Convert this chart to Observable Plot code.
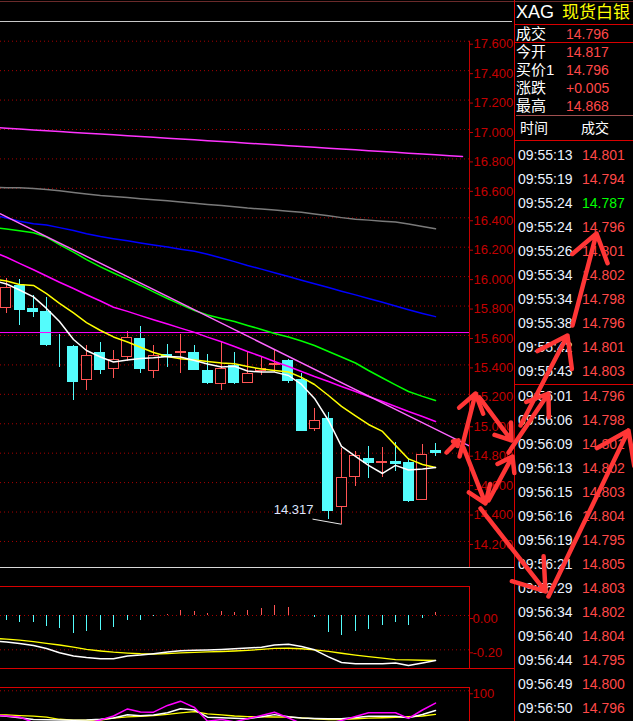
<!DOCTYPE html>
<html><head><meta charset="utf-8">
<script src="https://cdn.jsdelivr.net/npm/d3@7"></script>
<script src="https://cdn.jsdelivr.net/npm/@observablehq/plot@0.6"></script>
<style>
html,body{margin:0;padding:0;background:#000;width:633px;height:721px;overflow:hidden;}
#root{position:relative;width:633px;height:721px;background:#000;overflow:hidden;font-family:"Liberation Sans",Arial,sans-serif;}
.abs{position:absolute;}
.hl{position:absolute;height:1px;}
.vl{position:absolute;width:1px;}
.t{position:absolute;white-space:nowrap;}
</style></head><body><div id="root"></div>
<script>
// ---------- DATA ----------
const candleOpen  = [15.781,15.942,15.784,15.763,15.541,15.525,15.296,15.484,15.367,15.448,15.578,15.353,15.469,15.480,15.484,15.362,15.265,15.396,15.276,15.357,15.398,15.430,15.299,14.963,15.036,14.429,14.633,14.766,14.732,14.744,14.735,14.477,14.817];
const candleHigh  = [15.985,15.981,15.872,15.858,15.607,15.530,15.532,15.550,15.498,15.627,15.661,15.532,15.539,15.607,15.532,15.471,15.552,15.482,15.482,15.457,15.498,15.437,15.340,15.104,15.077,14.830,14.812,14.846,14.839,14.871,14.762,14.860,14.868];
const candleLow   = [15.747,15.668,15.724,15.528,15.380,15.160,15.226,15.335,15.310,15.423,15.344,15.310,15.380,15.344,15.362,15.267,15.228,15.265,15.272,15.328,15.349,15.272,14.950,14.948,14.350,14.317,14.576,14.630,14.637,14.678,14.467,14.477,14.775];
const candleClose = [15.926,15.770,15.758,15.532,15.537,15.283,15.462,15.362,15.435,15.584,15.367,15.462,15.452,15.491,15.362,15.276,15.374,15.272,15.340,15.374,15.412,15.287,14.950,15.022,14.406,14.633,14.785,14.732,14.743,14.723,14.474,14.789,14.796];

// moving averages, first value is the bar just left of the window (index -1)
const maWhite  = [15.975,15.950,15.909,15.862,15.784,15.695,15.573,15.498,15.454,15.420,15.433,15.444,15.448,15.457,15.454,15.430,15.406,15.386,15.391,15.359,15.351,15.351,15.328,15.267,15.172,15.022,14.846,14.778,14.717,14.662,14.717,14.686,14.693,14.703];
const maYellow = [15.985,15.970,15.947,15.940,15.885,15.818,15.753,15.688,15.634,15.590,15.556,15.520,15.484,15.457,15.442,15.433,15.423,15.413,15.408,15.389,15.372,15.362,15.352,15.315,15.267,15.192,15.118,15.053,14.995,14.948,14.853,14.761,14.723,14.703];
const maGreen  = [16.333,16.324,16.312,16.298,16.269,16.218,16.167,16.116,16.066,16.025,15.981,15.940,15.896,15.851,15.811,15.770,15.739,15.716,15.695,15.668,15.641,15.614,15.590,15.563,15.532,15.491,15.454,15.413,15.362,15.311,15.264,15.219,15.186,15.158];
const maMagenta= [16.170,16.132,16.090,16.047,16.004,15.962,15.919,15.877,15.834,15.792,15.764,15.735,15.707,15.678,15.650,15.621,15.589,15.557,15.525,15.491,15.457,15.423,15.389,15.355,15.321,15.287,15.253,15.219,15.185,15.151,15.117,15.083,15.049,15.015];
const maBlue   = [16.420,16.399,16.377,16.360,16.351,16.333,16.313,16.292,16.273,16.258,16.244,16.229,16.215,16.201,16.186,16.172,16.152,16.127,16.102,16.076,16.051,16.026,16.001,15.976,15.951,15.926,15.901,15.876,15.851,15.826,15.800,15.775,15.750,15.728];
const maGray   = [16.606,16.604,16.604,16.599,16.592,16.583,16.572,16.562,16.551,16.545,16.537,16.530,16.522,16.515,16.507,16.498,16.491,16.483,16.475,16.466,16.459,16.452,16.445,16.437,16.425,16.413,16.401,16.390,16.384,16.377,16.371,16.358,16.341,16.325];
const maLong   = [17.015,17.009,17.003,16.997,16.992,16.986,16.980,16.975,16.969,16.964,16.958,16.952,16.947,16.941,16.935,16.930,16.924,16.918,16.913,16.907,16.901,16.896,16.890,16.884,16.879,16.873,16.867,16.862,16.856,16.850,16.845,16.839,16.833,16.828,16.822,16.816];
const trendIdx = [-0.425, 34.51];
const trendVal = [16.427, 14.849];
const levelLine = [15.62];
const lowMark = {i: 25, v: 14.317};
const priceTicks = [14.2,14.4,14.6,14.8,15.0,15.2,15.4,15.6,15.8,16.0,16.2,16.4,16.6,16.8,17.0,17.2,17.4,17.6];

// hand-drawn annotation arrows, in (bar index, price) units of the price panel
const arrowFromIdx   = [32.80, 33.77, 35.25, 34.06, 35.93, 35.33, 40.39, 37.42, 38.31, 42.18];
const arrowFromPrice = [14.805,14.778,15.179,14.839,14.479,14.425,13.827,14.805,14.989,15.668];
const arrowToIdx     = [33.69, 34.96, 37.64, 35.70, 37.71, 40.17, 46.35, 40.39, 41.81, 43.97];
const arrowToPrice   = [14.887,15.206,14.887,14.459,14.778,13.861,14.955,15.206,15.600,16.294];

const macdHist = [-0.029,-0.043,-0.043,-0.064,-0.076,-0.105,-0.093,-0.087,-0.070,-0.029,-0.029,-0.006,0.006,0.029,0.023,0.014,0.025,0.019,0.029,0.043,0.060,0.049,0.000,-0.012,-0.099,-0.117,-0.093,-0.082,-0.058,-0.041,-0.058,-0.017,0.017];
const macdDif  = [-0.147,-0.155,-0.163,-0.175,-0.192,-0.217,-0.236,-0.245,-0.252,-0.252,-0.236,-0.231,-0.223,-0.213,-0.205,-0.203,-0.201,-0.198,-0.194,-0.190,-0.185,-0.172,-0.168,-0.181,-0.200,-0.241,-0.274,-0.282,-0.282,-0.282,-0.277,-0.292,-0.277,-0.262];
const macdDea  = [-0.133,-0.138,-0.144,-0.152,-0.162,-0.172,-0.184,-0.198,-0.207,-0.214,-0.219,-0.223,-0.225,-0.222,-0.218,-0.215,-0.212,-0.210,-0.207,-0.203,-0.198,-0.192,-0.191,-0.194,-0.200,-0.209,-0.220,-0.231,-0.240,-0.248,-0.257,-0.259,-0.261,-0.262];
const macdTicks = [0, -0.2];

const kdjJ = [68,66.8,65.4,58.3,55.7,54.3,54.3,57,61.6,66.8,76.1,72.1,71.8,80.7,86.3,78,59.9,62.2,59,63.3,67.5,71.7,64.2,57,55.7,57,60.9,66.2,71.1,71.1,71.1,63.6,74.7,83.7];
const kdjK = [67.8,66.6,64.5,62.2,61.8,61.4,61.2,61.4,62.4,64.2,68.4,67.2,68,71.1,76.3,74.7,65.3,64.5,63.8,63.3,65.8,68.6,65.8,64.2,63.6,63.3,63.2,64.9,66.6,66.6,66.6,64.5,68.8,74.1];
const kdjD = [68.6,68.2,67.4,66.6,65.4,62.5,61.3,61.3,61.3,63.9,65.7,66.2,67.4,68.9,70.8,72.6,69.6,68.3,66.8,66.1,65.8,65.5,65.3,64.2,63.2,62.2,62.2,63.2,63.9,64.5,65,65.8,66.8,68.8];
const kdjTicks = [100];

const symbolCode = "XAG";
const symbolName = "现货白银";
const quoteLabels = ["成交","今开","买价1","涨跌","最高"];
const quoteValues = ["14.796","14.817","14.796","+0.005","14.868"];
const tradeHeader = ["时间","成交"];
const tradeTimes = ["09:55:13","09:55:19","09:55:24","09:55:24","09:55:26","09:55:34","09:55:34","09:55:38","09:55:42","09:55:43",
  "09:56:01","09:56:06","09:56:09","09:56:13","09:56:15","09:56:16","09:56:19","09:56:21","09:56:29","09:56:34","09:56:40","09:56:44","09:56:49","09:56:50"];
const tradePrices = ["14.801","14.794","14.787","14.796","14.801","14.802","14.798","14.796","14.801","14.803",
  "14.796","14.798","14.801","14.802","14.803","14.804","14.795","14.805","14.803","14.802","14.804","14.795","14.800","14.796"];
const tradeUp = [1,1,0,1,1,1,1,1,1,1, 1,1,1,1,1,1,1,1,1,1,1,1,1,1];

// ---------- BUILD ----------
const RED = "#ff5454", CYAN = "#54fcfc", GRID = "#a80000", AXIS = "#c40000", FRAME = "#d80000";
const root = document.getElementById("root");
const series = (vals, start = -1) => vals.map((v, k) => ({i: start + k, v}));
const candles = candleOpen.map((o, i) => ({i, o, h: candleHigh[i], l: candleLow[i], c: candleClose[i]}));
const isUp = d => d.c >= d.o;
const xDomain = [-0.425, 34.51];
const fontFamily = "'Liberation Sans', Arial, sans-serif";
const cjkMixed = "'Liberation Sans', 'Noto Sans CJK SC', sans-serif";

function place(el, top, left, z) {
  const d = document.createElement("div");
  d.className = "abs"; d.style.top = top + "px"; d.style.left = left + "px";
  if (z) { d.style.zIndex = z; d.style.pointerEvents = "none"; }
  d.appendChild(el); root.appendChild(d); return d;
}
function hline(top, left, width, color, h = 1) {
  const d = document.createElement("div"); d.className = "hl";
  Object.assign(d.style, {top: top + "px", left: left + "px", width: width + "px", height: h + "px", background: color});
  root.appendChild(d);
}
function vline(left, top, height, color) {
  const d = document.createElement("div"); d.className = "vl";
  Object.assign(d.style, {top: top + "px", left: left + "px", height: height + "px", background: color});
  root.appendChild(d);
}
function text(str, cx, cy, size, color, family) {
  const d = document.createElement("div"); d.className = "t";
  d.textContent = str;
  Object.assign(d.style, {top: (cy - size * 0.6) + "px", left: cx + "px", fontSize: size + "px", lineHeight: (size * 1.2) + "px", color, fontFamily: family});
  root.appendChild(d);
}

const baseStyle = {background: "transparent", color: AXIS, fontFamily, fontSize: "13px", overflow: "visible"};

// price panel
const pricePlot = Plot.plot({
  width: 510, height: 546, marginLeft: 0, marginRight: 41, marginTop: 0, marginBottom: 0,
  style: baseStyle,
  x: {domain: xDomain, axis: null, round: true},
  y: {domain: [14.023, 17.734], axis: null},
  color: {type: "identity"},
  marks: [
    Plot.ruleY(priceTicks, {stroke: GRID, strokeDasharray: "1,3"}),
    Plot.axisY(priceTicks, {anchor: "right", label: null, tickSize: 3, tickPadding: 1, tickFormat: d => d.toFixed(3), color: AXIS, fontSize: 13, dy: 3}),
    Plot.ruleX([xDomain[1]], {y1: priceTicks[priceTicks.length - 1], y2: 14.023, stroke: AXIS}),
    Plot.ruleX(candles, {x: "i", y1: "l", y2: "h", stroke: d => isUp(d) ? RED : CYAN, shapeRendering: "crispEdges"}),
    Plot.rect(candles, {x1: d => d.i - 0.41, x2: d => d.i + 0.41, y1: "o", y2: "c", inset: 0.5,
      fill: d => isUp(d) ? "#000" : CYAN, stroke: d => isUp(d) ? RED : CYAN, shapeRendering: "crispEdges"}),
    Plot.ruleY(levelLine, {stroke: "#ff00ff"}),
    Plot.line(series(maLong), {x: "i", y: "v", stroke: "#ff33ff", clip: true}),
    Plot.line(series(maGray), {x: "i", y: "v", stroke: "#7a7a7a", clip: true}),
    Plot.line(series(maBlue), {x: "i", y: "v", stroke: "#0000ff", clip: true}),
    Plot.line(series(maGreen), {x: "i", y: "v", stroke: "#00ff00", clip: true}),
    Plot.line(series(maMagenta), {x: "i", y: "v", stroke: "#ff00ff", clip: true}),
    Plot.line(trendIdx.map((i, k) => ({i, v: trendVal[k]})), {x: "i", y: "v", stroke: "#ff66ff", clip: true}),
    Plot.line(series(maYellow), {x: "i", y: "v", stroke: "#ffff00", clip: true}),
    Plot.line(series(maWhite), {x: "i", y: "v", stroke: "#ffffff", clip: true}),
    Plot.link([lowMark], {x1: d => d.i - 2.2, y1: d => d.v + 0.035, x2: "i", y2: "v", stroke: "#e8e8e8"}),
    Plot.text([lowMark], {x: "i", y: "v", text: d => d.v.toFixed(3), dx: -28, dy: -14, textAnchor: "end", fill: "#dce6ff", fontSize: 13})
  ]
});
place(pricePlot, 21, 0);

// MACD panel
const macdPlot = Plot.plot({
  width: 510, height: 82, marginLeft: 0, marginRight: 41, marginTop: 0, marginBottom: 0,
  style: baseStyle,
  x: {domain: xDomain, axis: null, round: true},
  y: {domain: [-0.309, 0.169], axis: null},
  color: {type: "identity"},
  marks: [
    Plot.ruleY(macdTicks, {stroke: GRID, strokeDasharray: "1,3"}),
    Plot.axisY(macdTicks, {anchor: "right", label: null, tickSize: 3, tickPadding: 0, tickFormat: d => d.toFixed(2), color: AXIS, fontSize: 13, dy: 3}),
    Plot.ruleX(macdHist.map((v, i) => ({i, v})), {x: "i", y1: 0, y2: "v", stroke: d => d.v >= 0 ? RED : CYAN, shapeRendering: "crispEdges"}),
    Plot.line(series(macdDea), {x: "i", y: "v", stroke: "#ffff00", strokeWidth: 1.3, clip: true}),
    Plot.line(series(macdDif), {x: "i", y: "v", stroke: "#ffffff", clip: true})
  ]
});
place(macdPlot, 586, 0);

// KDJ panel
const kdjPlot = Plot.plot({
  width: 510, height: 82, marginLeft: 0, marginRight: 41, marginTop: 0, marginBottom: 0,
  style: baseStyle,
  x: {domain: xDomain, axis: null, round: true},
  y: {domain: [-3.6, 104.3], axis: null},
  color: {type: "identity"},
  marks: [
    Plot.ruleY(kdjTicks, {stroke: GRID, strokeDasharray: "1,3"}),
    Plot.axisY(kdjTicks, {anchor: "right", label: null, tickSize: 3, tickPadding: 0, color: AXIS, fontSize: 13, dy: 3}),
    Plot.line(series(kdjD), {x: "i", y: "v", stroke: "#ffff00", strokeWidth: 1.3, clip: true}),
    Plot.line(series(kdjK), {x: "i", y: "v", stroke: "#ffffff", clip: true}),
    Plot.line(series(kdjJ), {x: "i", y: "v", stroke: "#ff00ff", clip: true})
  ]
});
place(kdjPlot, 687, 0);

// frames
hline(1, 0, 633, "#6a2a2a");
hline(21, 0, 512, "#c8c8c8");
hline(567, 0, 514, "#d8d8d8");
hline(586, 0, 470, FRAME);
vline(469, 586, 82, FRAME);
hline(668, 0, 514, FRAME);
hline(687, 0, 470, FRAME);
vline(469, 687, 40, FRAME);
vline(514, 0, 721, FRAME);

// right panel
text(symbolCode, 516, 13, 18, "#ffffff", fontFamily);
text(symbolName, 562, 13, 17, "#ffff00", cjkMixed);
hline(24, 514, 119, FRAME);
quoteLabels.forEach((lab, k) => {
  text(lab, 516, 34 + 18 * k, 15, "#ffffff", cjkMixed);
  text(quoteValues[k], 566, 34 + 18 * k, 14, "#ff4848", fontFamily);
});
hline(42, 514, 119, FRAME);
hline(115, 516, 117, "#a05050");
text(tradeHeader[0], 520, 128, 14, "#ffffff", cjkMixed);
text(tradeHeader[1], 581, 128, 14, "#ffffff", cjkMixed);
hline(140, 514, 119, FRAME);
hline(384, 514, 119, FRAME);
tradeTimes.forEach((t, k) => {
  const cy = k < 10 ? 155 + 24 * k : 396 + 24 * (k - 10);
  text(t, 518, cy, 14, "#eaf2ff", fontFamily);
  text(tradePrices[k], 582, cy, 14, tradeUp[k] ? "#ff4848" : "#00ff00", fontFamily);
});

// annotation overlay sharing the price panel's units, spanning the whole page
const overlay = Plot.plot({
  width: 633, height: 721, margin: 0,
  style: {background: "transparent", overflow: "visible"},
  x: {domain: [-0.425, 46.726], axis: null},
  y: {domain: [12.977, 17.877], axis: null},
  marks: [
    Plot.arrow(arrowFromIdx.map((x1, k) => ({x1, y1: arrowFromPrice[k], x2: arrowToIdx[k], y2: arrowToPrice[k]})),
      {x1: "x1", y1: "y1", x2: "x2", y2: "y2", stroke: "#ff3636", strokeWidth: 4.5, headLength: 12, headAngle: 70, bend: false, strokeLinejoin: "miter"})
  ]
});
place(overlay, 0, 0, 10);
</script></body></html>
